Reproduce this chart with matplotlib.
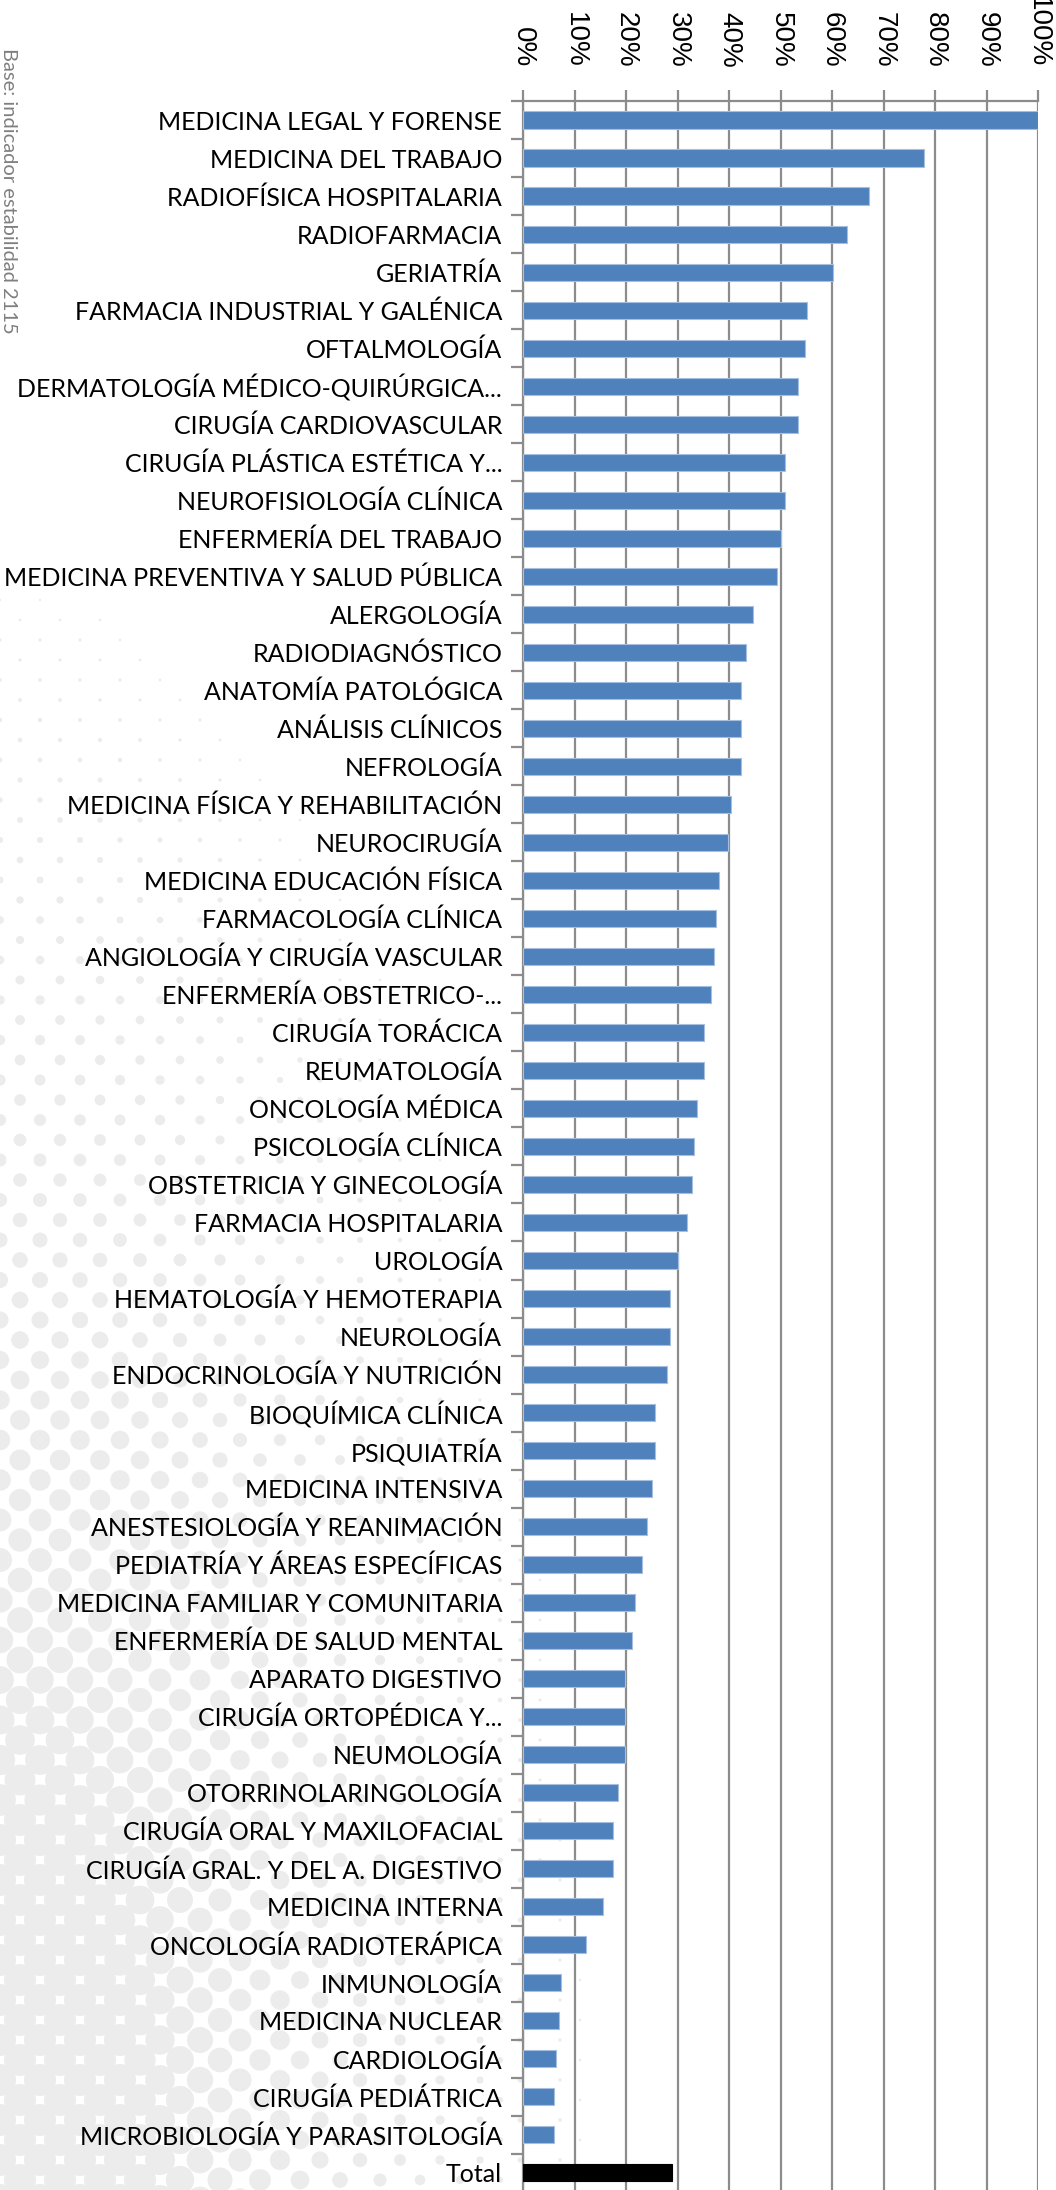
import matplotlib
matplotlib.use("Agg")
import matplotlib.pyplot as plt
import numpy as np
from matplotlib.ticker import FixedLocator, PercentFormatter
from matplotlib.patches import Circle

categories = [
    "MEDICINA LEGAL Y FORENSE", "MEDICINA DEL TRABAJO", "RADIOFÍSICA HOSPITALARIA",
    "RADIOFARMACIA", "GERIATRÍA", "FARMACIA INDUSTRIAL Y GALÉNICA", "OFTALMOLOGÍA",
    "DERMATOLOGÍA MÉDICO-QUIRÚRGICA...", "CIRUGÍA CARDIOVASCULAR",
    "CIRUGÍA PLÁSTICA ESTÉTICA Y...", "NEUROFISIOLOGÍA CLÍNICA", "ENFERMERÍA DEL TRABAJO",
    "MEDICINA PREVENTIVA Y SALUD PÚBLICA", "ALERGOLOGÍA", "RADIODIAGNÓSTICO",
    "ANATOMÍA PATOLÓGICA", "ANÁLISIS CLÍNICOS", "NEFROLOGÍA",
    "MEDICINA FÍSICA Y REHABILITACIÓN", "NEUROCIRUGÍA", "MEDICINA EDUCACIÓN FÍSICA",
    "FARMACOLOGÍA CLÍNICA", "ANGIOLOGÍA Y CIRUGÍA VASCULAR", "ENFERMERÍA OBSTETRICO-...",
    "CIRUGÍA TORÁCICA", "REUMATOLOGÍA", "ONCOLOGÍA MÉDICA", "PSICOLOGÍA CLÍNICA",
    "OBSTETRICIA Y GINECOLOGÍA", "FARMACIA HOSPITALARIA", "UROLOGÍA",
    "HEMATOLOGÍA Y HEMOTERAPIA", "NEUROLOGÍA", "ENDOCRINOLOGÍA Y NUTRICIÓN",
    "BIOQUÍMICA CLÍNICA", "PSIQUIATRÍA", "MEDICINA INTENSIVA",
    "ANESTESIOLOGÍA Y REANIMACIÓN", "PEDIATRÍA Y ÁREAS ESPECÍFICAS",
    "MEDICINA FAMILIAR Y COMUNITARIA", "ENFERMERÍA DE SALUD MENTAL", "APARATO DIGESTIVO",
    "CIRUGÍA ORTOPÉDICA Y...", "NEUMOLOGÍA", "OTORRINOLARINGOLOGÍA",
    "CIRUGÍA ORAL Y MAXILOFACIAL", "CIRUGÍA GRAL. Y DEL A. DIGESTIVO", "MEDICINA INTERNA",
    "ONCOLOGÍA RADIOTERÁPICA", "INMUNOLOGÍA", "MEDICINA NUCLEAR", "CARDIOLOGÍA",
    "CIRUGÍA PEDIÁTRICA", "MICROBIOLOGÍA Y PARASITOLOGÍA", "Total",
]
values = [
    100.0, 77.8, 67.2, 63.0, 60.1, 55.2, 54.8, 53.4, 53.4, 50.9,
    50.9, 50.0, 49.4, 44.7, 43.3, 42.4, 42.4, 42.4, 40.4, 39.9,
    38.0, 37.5, 37.0, 36.5, 35.1, 35.1, 33.7, 33.2, 32.8, 31.8,
    30.0, 28.5, 28.5, 28.0, 25.6, 25.6, 25.1, 24.1, 23.2, 21.8,
    21.2, 19.8, 19.8, 19.8, 18.4, 17.5, 17.5, 15.5, 12.2, 7.4,
    6.9, 6.5, 6.0, 6.0, 29.0,
]
x_ticks = [0, 10, 20, 30, 40, 50, 60, 70, 80, 90, 100]
side_note = "Base: indicador estabilidad 2115"

W, H = 1056, 2190
fig = plt.figure(figsize=(W / 100, H / 100), dpi=100)
fig.patch.set_facecolor("white")

# decorative halftone background (bottom-left), in pixel units
bg = fig.add_axes([0, 0, 1, 1], zorder=0)
bg.set_xlim(0, W)
bg.set_ylim(H, 0)
bg.axis("off")
step = 40.0
for i, gy in enumerate(np.arange(H + 10, 250, -step * 0.5)):
    shift = 0.0 if i % 2 == 0 else step * 0.5
    for gx in np.arange(shift, 760, step):
        t = 1.0 - np.sqrt((gx / 700.0) ** 2 + ((H - gy) / 1900.0) ** 2)
        if t <= 0.03:
            continue
        r = step * 0.40 * min(1.0, t * 1.25) ** 1.6
        if r < 1.2:
            continue
        bg.add_patch(Circle((gx, gy), r, facecolor="#ECECEC", edgecolor="none"))

ax_left, ax_right, ax_top = 523 / W, 1038 / W, 1 - 101 / H
ax = fig.add_axes([ax_left, 0.0, ax_right - ax_left, ax_top], zorder=2)
ax.set_facecolor("none")

n = len(categories)
ypos = np.arange(n)
colors = ["#4F81BD"] * (n - 1) + ["#000000"]
edges = ["#A7BFDE"] * (n - 1) + ["#000000"]
ax.barh(ypos, values, height=0.45, color=colors, edgecolor=edges, linewidth=0.8, zorder=3)

ax.set_xlim(0, 100)
ax.set_ylim(54.45, -0.5)

grid_c = "#8C8C8C"
ax.xaxis.set_major_locator(FixedLocator(x_ticks))
ax.xaxis.set_major_formatter(PercentFormatter(decimals=0))
ax.xaxis.tick_top()
ax.tick_params(axis="x", which="major", top=True, bottom=False, length=8, width=1.6,
               color=grid_c, pad=16, labelsize=20, labelrotation=-90)
for lab in ax.get_xticklabels():
    lab.set_family("Liberation Sans")
ax.grid(axis="x", color=grid_c, linewidth=1.6, zorder=0)
ax.set_axisbelow(True)

ax.set_yticks(ypos)
ax.set_yticklabels(categories, fontsize=18, family="Lato")
ax.yaxis.set_minor_locator(FixedLocator(np.arange(-0.5, n, 1.0)))
ax.tick_params(axis="y", which="major", length=0, pad=15)
ax.tick_params(axis="y", which="minor", length=9, width=1.6, color=grid_c)

for s in ["right", "bottom"]:
    ax.spines[s].set_visible(False)
for s in ["left", "top"]:
    ax.spines[s].set_color(grid_c)
    ax.spines[s].set_linewidth(1.6)

fig.text(0.0, 1 - 48 / H, side_note, rotation=-90, ha="left", va="top",
         fontsize=14.5, color="#7F7F7F", family="Lato", zorder=3)

fig.savefig("out.png", dpi=100)
